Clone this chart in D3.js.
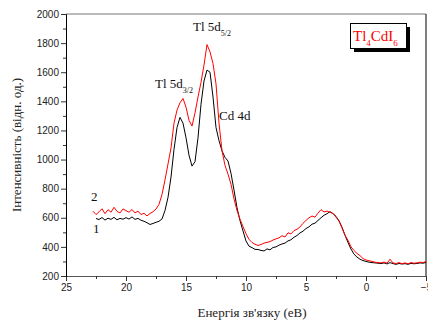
<!DOCTYPE html>
<html>
<head>
<meta charset="utf-8">
<script src="https://cdn.jsdelivr.net/npm/d3@7"></script>
<style>
  html, body { margin: 0; padding: 0; background: #fff; }
  svg { display: block; }
</style>
</head>
<body>
<svg id="chart" width="428" height="322"></svg>
<script>
// binding energy grid (eV), shared by both spectra
const energy = [
  22.75, 22.5, 22.25, 22.0, 21.75, 21.5, 21.25, 21.0, 20.75, 20.5, 20.25, 20.0,
  19.75, 19.5, 19.25, 19.0, 18.75, 18.5, 18.25, 18.0, 17.75, 17.5, 17.25, 17.0,
  16.75, 16.5, 16.25, 16.0, 15.75, 15.5, 15.25, 15.0, 14.75, 14.5, 14.25, 14.0,
  13.75, 13.5, 13.25, 13.0, 12.75, 12.5, 12.25, 12.0, 11.75, 11.5, 11.25, 11.0,
  10.75, 10.5, 10.25, 10.0, 9.75, 9.5, 9.25, 9.0, 8.75, 8.5, 8.25, 8.0,
  7.75, 7.5, 7.25, 7.0, 6.75, 6.5, 6.25, 6.0, 5.75, 5.5, 5.25, 5.0,
  4.75, 4.5, 4.25, 4.0, 3.75, 3.5, 3.25, 3.0, 2.75, 2.5, 2.25, 2.0,
  1.75, 1.5, 1.25, 1.0, 0.75, 0.5, 0.25, 0.0, -0.25, -0.5, -0.75, -1.0,
  -1.25, -1.5, -1.75, -2.0, -2.25, -2.5, -2.75, -3.0, -3.25, -3.5, -3.75, -4.0,
  -4.25, -4.5, -4.75, -5.0
];

// curve 1 (black)
const curve1 = [
  null, 595, 588, 602, 584, 597, 589, 603, 586, 596, 590, 601,
  591, 606, 589, 596, 583, 576, 566, 554, 561, 569, 576, 592,
  650, 740, 880, 1070, 1220, 1290, 1250, 1150, 1030, 955, 985, 1150,
  1380, 1540, 1615, 1600, 1430, 1220, 1130, 1060, 1015, 990, 905, 790,
  670, 580, 510, 440, 405, 395, 383, 382, 376, 372, 386, 380,
  396, 400, 412, 420, 426, 441, 449, 466, 478, 496, 508, 526,
  538, 556, 563, 582, 600, 617, 628, 642, 628, 610, 578, 535,
  480, 430, 385, 350, 330, 315, 306, 300, 295, 292, 290, 288,
  285, 290, 283, 292, 285, 280, 286, 282, 285, 280, 287, 284,
  286, 290, 288, 293
];

// curve 2 (red)
const curve2 = [
  645, 622, 641, 662, 628, 656, 638, 672, 644, 633, 661, 649,
  638, 657, 633, 646, 622, 631, 613, 630, 641, 660, 692, 760,
  860, 970, 1080, 1250, 1340, 1390, 1420, 1360, 1270, 1230, 1320, 1430,
  1530, 1650, 1790, 1740, 1660, 1520, 1250, 1060, 960, 900, 830, 730,
  650, 590, 540, 490, 452, 430, 418, 410, 416, 426, 431, 436,
  447, 455, 462, 477, 468, 497, 489, 512, 521, 537, 562, 582,
  600, 612, 604, 632, 656, 640, 646, 638, 630, 604, 580, 530,
  480, 445, 400, 375, 355, 340, 320, 310, 305, 300, 295, 292,
  290, 296, 288, 315, 290, 286, 292, 285, 290, 284, 292, 288,
  290, 295, 292, 300
];

const xTicks = [25, 20, 15, 10, 5, 0, -5];
const xMinor = [22.5, 17.5, 12.5, 7.5, 2.5, -2.5];
const yTicks = [200, 400, 600, 800, 1000, 1200, 1400, 1600, 1800, 2000];
const yMinor = [300, 500, 700, 900, 1100, 1300, 1500, 1700, 1900];

const margin = { top: 14, right: 2, bottom: 46, left: 66 };
const W = 428, H = 322;
const svg = d3.select('#chart');

const x = d3.scaleLinear().domain([25, -5]).range([margin.left, W - margin.right]);
const y = d3.scaleLinear().domain([200, 2000]).range([H - margin.bottom, margin.top]);

const tickFont = 'Arial, "Liberation Sans", sans-serif';
const serif = '"Liberation Serif", "Times New Roman", serif';

// frame: top (grey) and right (black)
svg.append('line')
  .attr('x1', x(25)).attr('x2', x(-5)).attr('y1', y(2000)).attr('y2', y(2000))
  .attr('stroke', '#777').attr('stroke-width', 1);
svg.append('line')
  .attr('x1', x(-5)).attr('x2', x(-5)).attr('y1', y(2000)).attr('y2', y(200))
  .attr('stroke', '#000').attr('stroke-width', 1);

// x axis
const gx = svg.append('g').attr('transform', `translate(0,${y(200)})`);
gx.call(d3.axisBottom(x).tickValues(xTicks).tickSize(5).tickPadding(3).tickFormat(d3.format('d')));
gx.append('g').call(d3.axisBottom(x).tickValues(xMinor).tickSize(3).tickFormat(''))
  .select('.domain').remove();
gx.selectAll('.domain').attr('stroke', '#555');
gx.selectAll('line').attr('stroke', '#333');
gx.selectAll('text').attr('font-family', tickFont).attr('font-size', 10).attr('fill', '#222');

// y axis
const gy = svg.append('g').attr('transform', `translate(${x(25)},0)`);
gy.call(d3.axisLeft(y).tickValues(yTicks).tickSize(5).tickPadding(2).tickFormat(d3.format('d')));
gy.append('g').call(d3.axisLeft(y).tickValues(yMinor).tickSize(3).tickFormat(''))
  .select('.domain').remove();
gy.selectAll('.domain').attr('stroke', '#000');
gy.selectAll('line').attr('stroke', '#333');
gy.selectAll('text').attr('font-family', tickFont).attr('font-size', 10).attr('fill', '#222');

// spectra
const line = (vals) => d3.line()
  .defined((d, i) => vals[i] != null)
  .x((d, i) => x(energy[i]))
  .y((d, i) => y(vals[i]))(energy);

svg.append('path').attr('d', line(curve1))
  .attr('fill', 'none').attr('stroke', '#000').attr('stroke-width', 1);
svg.append('path').attr('d', line(curve2))
  .attr('fill', 'none').attr('stroke', '#ff0000').attr('stroke-width', 1);

// axis titles
svg.append('text')
  .attr('transform', `translate(21,${(y(200) + y(2000)) / 2}) rotate(-90)`)
  .attr('text-anchor', 'middle')
  .attr('font-family', serif).attr('font-size', 13).attr('fill', '#222')
  .text('Інтенсивність (відн. од.)');
svg.append('text')
  .attr('x', 252).attr('y', 317)
  .attr('text-anchor', 'middle')
  .attr('font-family', serif).attr('font-size', 13).attr('fill', '#222')
  .text("Енергія зв'язку (еВ)");

// peak labels
function label(px, py, main, sub) {
  const t = svg.append('text').attr('x', px).attr('y', py)
    .attr('font-family', serif).attr('font-size', 13).attr('fill', '#111');
  t.append('tspan').text(main);
  if (sub) t.append('tspan').attr('dy', 5).attr('font-size', 8).text(sub);
}
label(193, 31, 'Tl 5d', '5/2');
label(155, 88, 'Tl 5d', '3/2');
label(219, 120, 'Cd 4d');
label(91, 201, '2');
label(93, 233, '1');

// compound label box with shadow
svg.append('rect').attr('x', 354).attr('y', 27).attr('width', 56).attr('height', 25).attr('fill', '#000');
svg.append('rect').attr('x', 350.5).attr('y', 23.5).attr('width', 56).attr('height', 25)
  .attr('fill', '#fff').attr('stroke', '#000').attr('stroke-width', 1);
const lt = svg.append('text').attr('x', 353).attr('y', 41)
  .attr('font-family', serif).attr('font-size', 15).attr('fill', '#ff0000');
lt.append('tspan').text('Tl');
lt.append('tspan').attr('dy', 5).attr('font-size', 9).text('4');
lt.append('tspan').attr('dy', -5).text('CdI');
lt.append('tspan').attr('dy', 5).attr('font-size', 9).text('6');
</script>
</body>
</html>
